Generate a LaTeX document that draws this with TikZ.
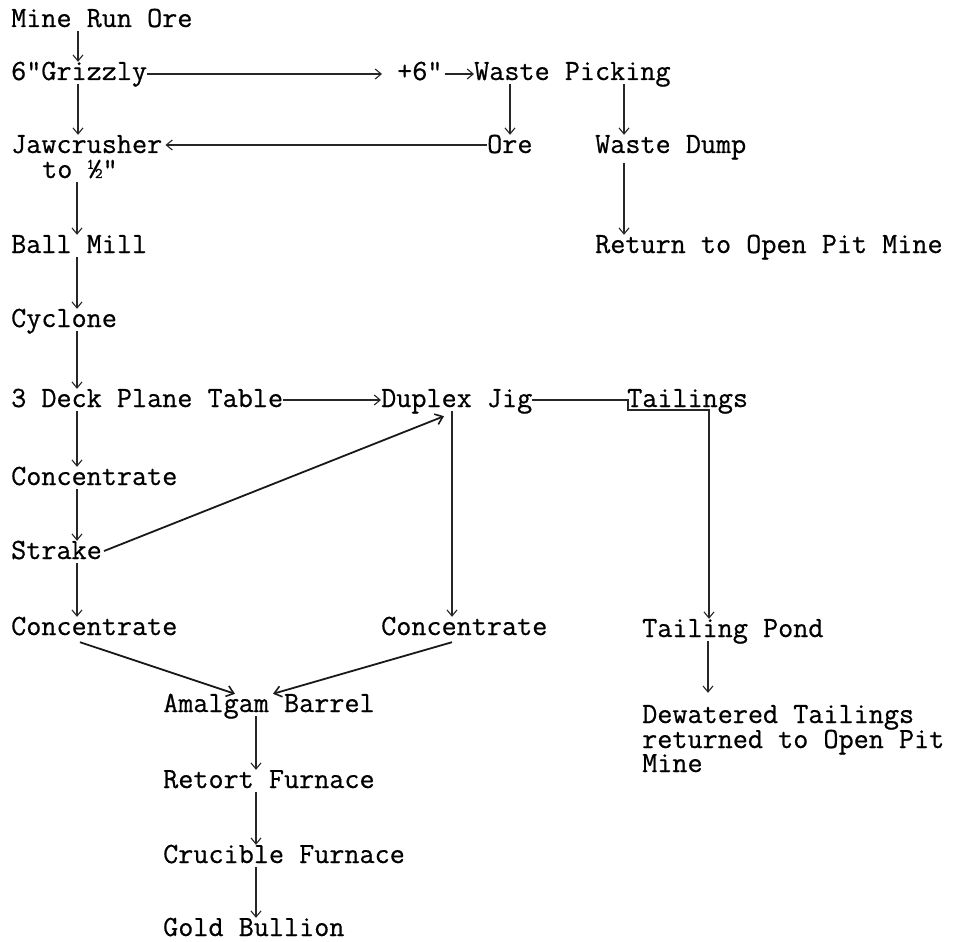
\documentclass[tikz,border=0pt]{standalone}
\usepackage{fontspec}
\newfontfamily\typew{Latin Modern Mono}[FakeBold=0.6]
\usetikzlibrary{arrows.meta}
\begin{document}
\begin{tikzpicture}[x=1pt,y=-1pt,
  lbl/.style={anchor=base west, inner xsep=0pt, inner ysep=2pt, text height=16pt, text depth=2pt,
    font=\typew\fontsize{29.33}{25}\selectfont},
  arr/.style={draw=black!85, line width=1.1pt, -{Straight Barb[length=6pt,width=10pt,line width=1.1pt]}},
  darr/.style={draw=black!90, line width=1.8pt, -{Straight Barb[length=7pt,width=11pt,line width=1.6pt]}}]
\useasboundingbox[fill=white] (0,0) rectangle (957,941);

% nodes
\node[lbl] (mine)    at (11,27)  {Mine Run Ore};
\node[lbl] (grizzly) at (11,80)  {6"Grizzly};
\node[lbl] (plus)    at (397,80) {+6"};
\node[lbl] (waste)   at (474,80) {Waste Picking};
\node[lbl] (jaw)     at (11,153) {Jawcrusher};
\node[lbl] (jawto)   at (42,178) {to ½"};
\node[lbl] (ore)     at (487,153) {Ore};
\node[lbl] (dump)    at (595,153) {Waste Dump};
\node[lbl] (ball)    at (11,253) {Ball Mill};
\node[lbl] (ret)     at (595,253) {Return to Open Pit Mine};
\node[lbl] (cyc)     at (11,327) {Cyclone};
\node[lbl] (deck)    at (11,407) {3 Deck Plane Table};
\node[lbl] (duplex)  at (381,407) {Duplex Jig};
\node[lbl] (tail)    at (627,407) {Tailings};
\node[lbl] (conca)   at (11,485) {Concentrate};
\node[lbl] (strake)  at (11,559) {Strake};
\node[lbl] (concb)   at (11,635) {Concentrate};
\node[lbl] (concc)   at (381,635) {Concentrate};
\node[lbl] (pond)    at (642,637) {Tailing Pond};
\node[lbl] (dewa)    at (642,723) {Dewatered Tailings};
\node[lbl] (dewb)    at (642,748) {returned to Open Pit};
\node[lbl] (dewc)    at (642,772) {Mine};
\node[lbl] (amal)    at (163,712) {Amalgam Barrel};
\node[lbl] (retort)  at (163,788) {Retort Furnace};
\node[lbl] (cruc)    at (163,863) {Crucible Furnace};
\node[lbl] (gold)    at (163,936) {Gold Bullion};

\coordinate (tj) at (628,400);
\coordinate (tk) at (709,410);

% left column
\draw[arr] (78,0 |- mine.south) -- (78,0 |- grizzly.north);
\draw[arr] (78,0 |- grizzly.south) -- (78,0 |- jaw.north);
\draw[arr] (77,0 |- jawto.south) -- (77,0 |- ball.north);
\draw[arr] (77,0 |- ball.south) -- (77,0 |- cyc.north);
\draw[arr] (77,0 |- cyc.south) -- (77,0 |- deck.north);
\draw[arr] (77,0 |- deck.south) -- (77,0 |- conca.north);
\draw[arr] (77,0 |- conca.south) -- (77,0 |- strake.north);
\draw[arr] (77,0 |- strake.south) -- (77,0 |- concb.north);

% top branch
\draw[arr, shorten >=15pt] ([yshift=-1pt]grizzly.east) -- ([yshift=-1pt]grizzly.east -| plus.west);
\draw[arr] ([xshift=2pt,yshift=-1pt]plus.east) -- ([yshift=-1pt]plus.east -| waste.west);
\draw[arr] (510,0 |- waste.south) -- (510,0 |- ore.north);
\draw[arr] (624,0 |- waste.south) -- (624,0 |- dump.north);
\draw[arr, shorten <=6pt] (624,0 |- dump.south) -- (624,0 |- ret.north);
\draw[arr] ([yshift=1pt]ore.west) -- ([xshift=3pt,yshift=1pt]jaw.east);

% middle
\draw[arr] (deck.east) -- (duplex.west);
\draw[arr] (duplex.east) -- (duplex.east -| tj) -- (tj |- tk) -- (tk) -- (tk |- pond.north);
\draw[darr] ([xshift=2pt,yshift=1pt]strake.east) -- ([xshift=63pt,yshift=-5pt]duplex.south west);
\draw[arr] (452,0 |- duplex.south) -- (452,0 |- concc.north);

% bottom
\draw[darr] ([xshift=69pt,yshift=-3pt]concb.south west) -- ([xshift=72pt]amal.north west);
\draw[darr] ([xshift=71pt,yshift=-3pt]concc.south west) -- ([xshift=110pt]amal.north west);
\draw[arr] (256,0 |- amal.south) -- (256,0 |- retort.north);
\draw[arr] (256,0 |- retort.south) -- (256,0 |- cruc.north);
\draw[arr] (256,0 |- cruc.south) -- (256,0 |- gold.north);
\draw[arr, shorten >=12pt] (708,0 |- pond.south) -- (708,0 |- dewa.north);
\end{tikzpicture}
\end{document}
